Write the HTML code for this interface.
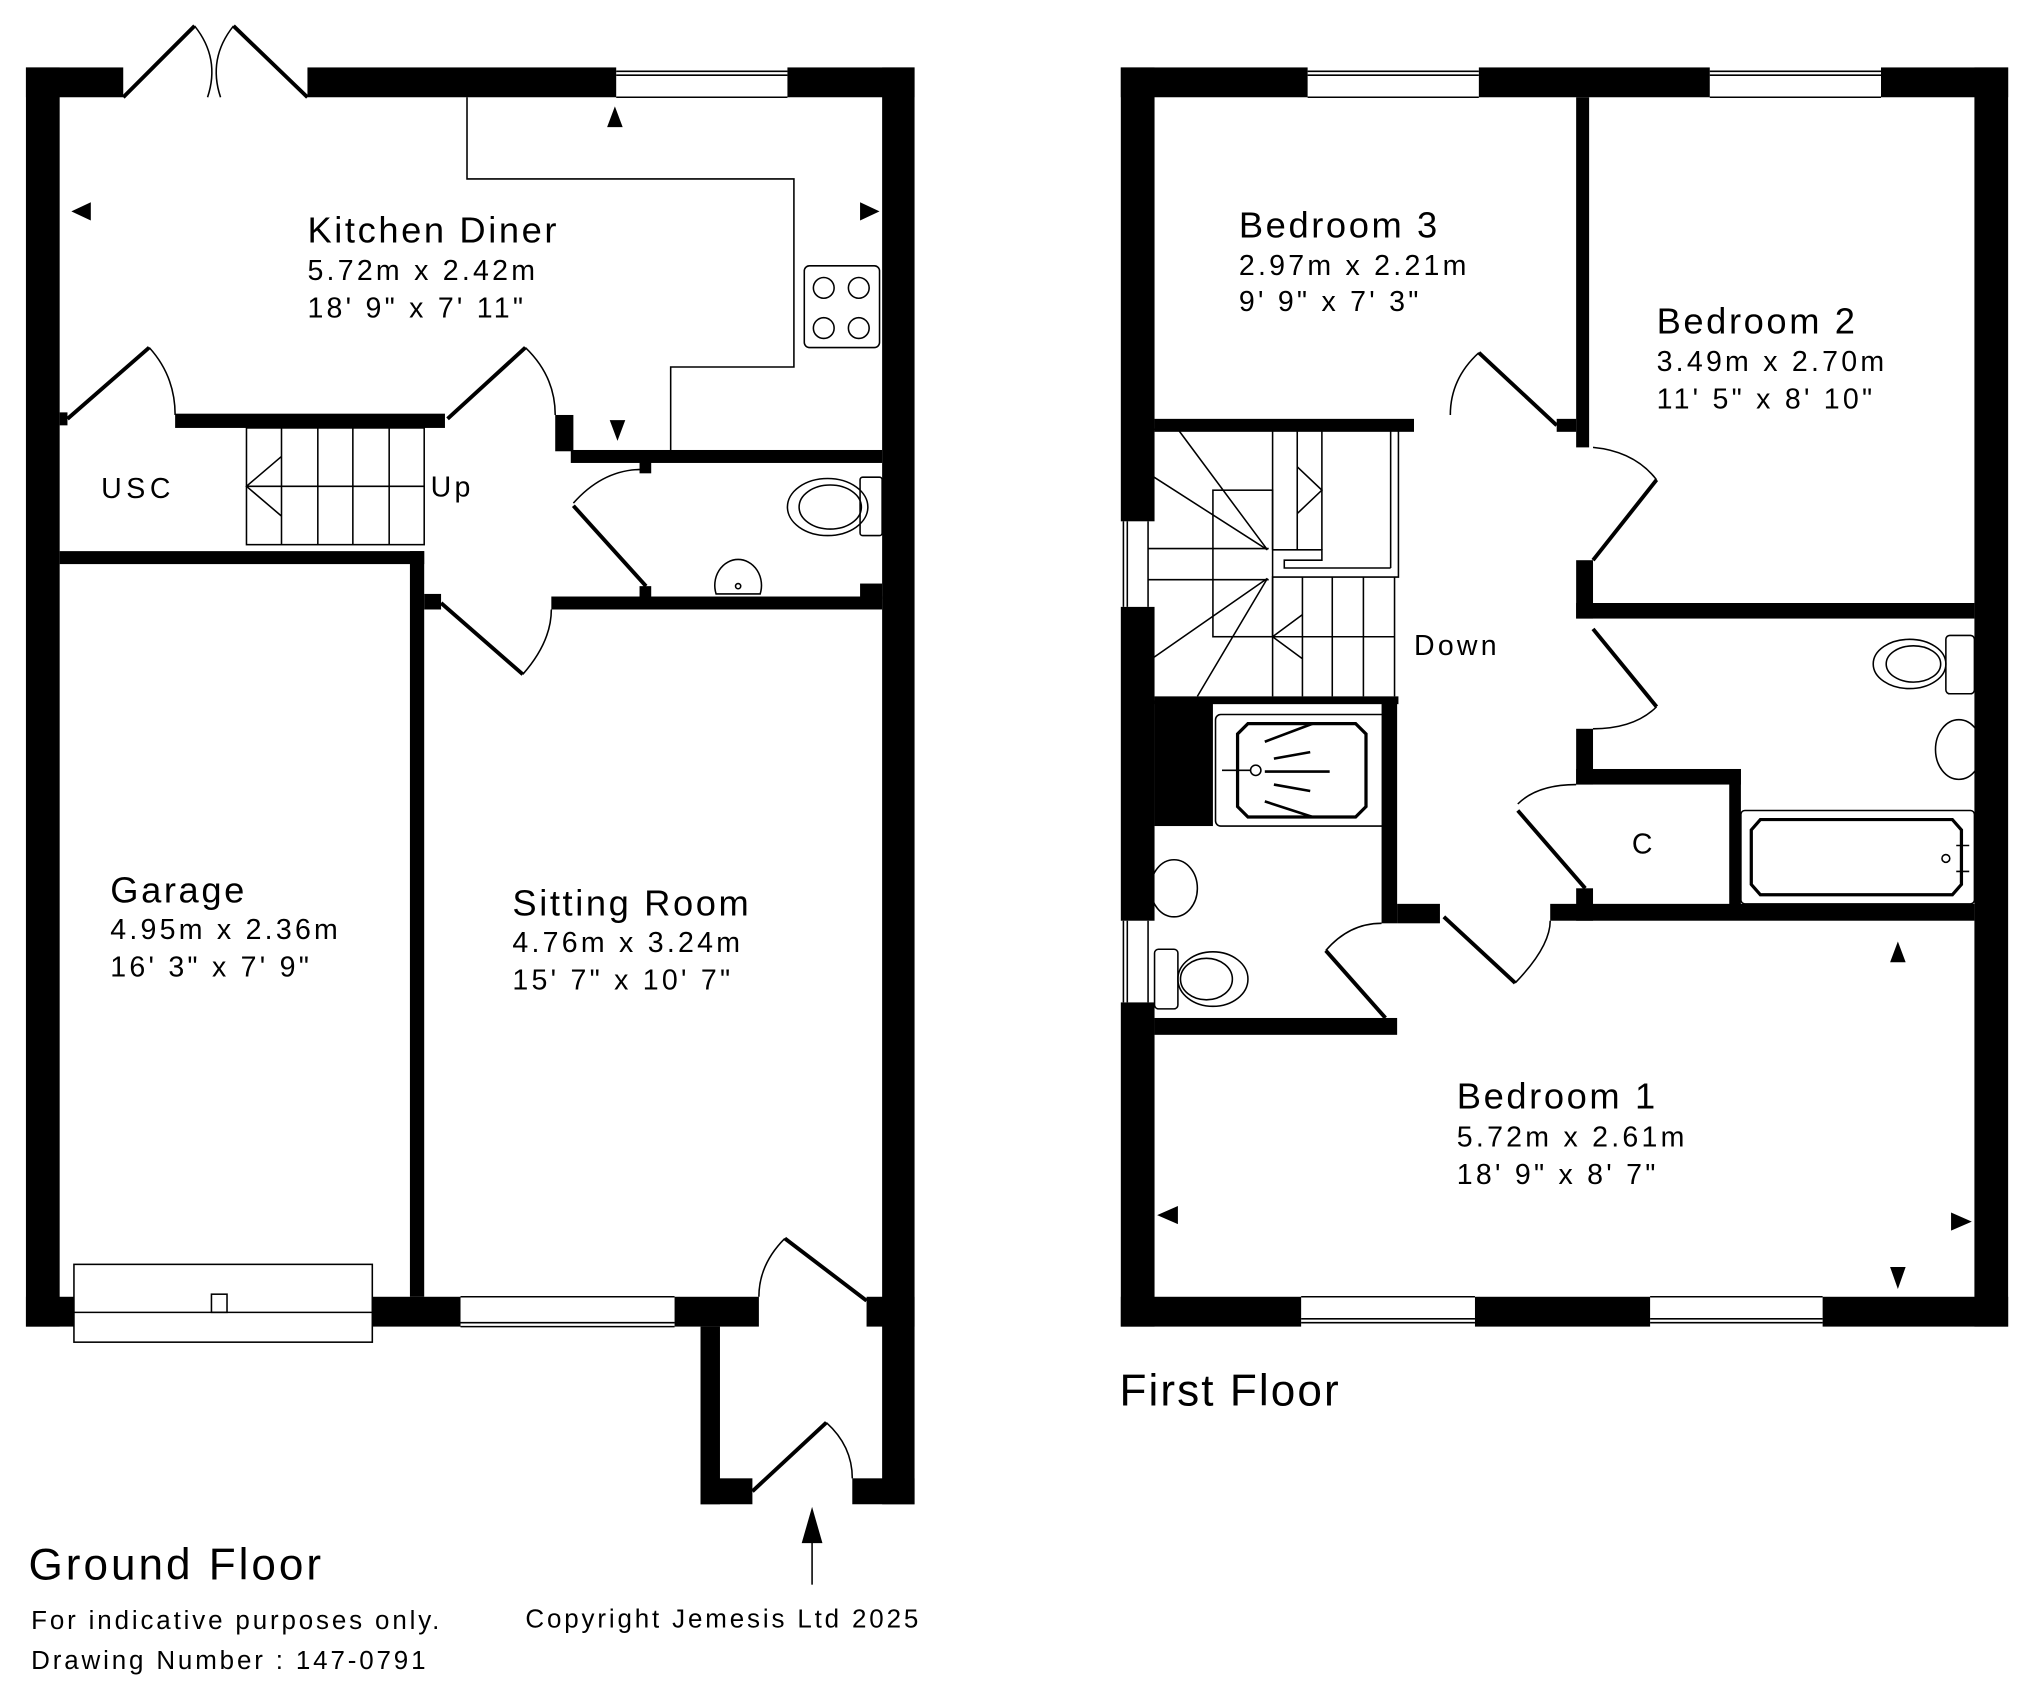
<!DOCTYPE html>
<html><head><meta charset="utf-8"><style>
html,body{margin:0;padding:0;background:#fff}
svg{display:block}
text{font-family:"Liberation Sans",sans-serif;fill:#000}
</style></head><body>
<svg width="2025" height="1691" viewBox="0 0 1561 1304" preserveAspectRatio="none" xmlns="http://www.w3.org/2000/svg">
<g fill="#000" stroke="none">
<rect x="20" y="52" width="26" height="971"/>
<rect x="20" y="52" width="75" height="23"/>
<rect x="237" y="52" width="238" height="23"/>
<rect x="607" y="52" width="98" height="23"/>
<rect x="680" y="52" width="25" height="1108"/>
<rect x="46" y="318" width="6" height="10"/>
<rect x="135" y="319" width="208" height="11"/>
<rect x="428" y="320" width="14" height="28"/>
<rect x="440" y="347" width="240" height="10"/>
<rect x="493" y="355" width="9" height="10"/>
<rect x="493" y="452" width="9" height="10"/>
<rect x="663" y="450" width="17" height="12"/>
<rect x="425" y="460" width="255" height="10"/>
<rect x="46" y="425" width="281" height="10"/>
<rect x="316" y="425" width="11" height="575"/>
<rect x="327" y="458" width="13" height="12"/>
<rect x="20" y="1000" width="37" height="23"/>
<rect x="287" y="1000" width="68" height="23"/>
<rect x="520" y="1000" width="65" height="23"/>
<rect x="668" y="1000" width="37" height="23"/>
<rect x="540" y="1023" width="15" height="137"/>
<rect x="540" y="1140" width="40" height="20"/>
<rect x="657" y="1140" width="48" height="20"/>
<rect x="864" y="52" width="26" height="350"/>
<rect x="864" y="468" width="26" height="242"/>
<rect x="864" y="773" width="26" height="250"/>
<rect x="864" y="52" width="144" height="23"/>
<rect x="1140" y="52" width="178" height="23"/>
<rect x="1450" y="52" width="98" height="23"/>
<rect x="1522" y="52" width="26" height="971"/>
<rect x="864" y="1000" width="139" height="23"/>
<rect x="1137" y="1000" width="135" height="23"/>
<rect x="1405" y="1000" width="143" height="23"/>
<rect x="1215" y="75" width="10" height="270"/>
<rect x="890" y="323" width="200" height="10"/>
<rect x="1200" y="323" width="15" height="10"/>
<rect x="1215" y="432" width="13" height="45"/>
<rect x="1215" y="465" width="307" height="12"/>
<rect x="1215" y="562" width="13" height="43"/>
<rect x="1215" y="593" width="127" height="12"/>
<rect x="1333" y="593" width="9" height="107"/>
<rect x="1215" y="685" width="13" height="25"/>
<rect x="1195" y="697" width="327" height="13"/>
<rect x="1077" y="697" width="33" height="15"/>
<rect x="890" y="537" width="188" height="6"/>
<rect x="890" y="540" width="45" height="97"/>
<rect x="1065" y="540" width="12" height="172"/>
<rect x="890" y="785" width="187" height="13"/>
</g>
<g fill="none" stroke="#000" stroke-width="1.2">
<path d="M475 55H607M475 58H607M475 75H607"/>
<path d="M355 1020H520M355 1023H520M355 1000H520"/>
<path d="M95 75L150 20" stroke-width="3"/>
<path d="M237 75L180 20" stroke-width="3"/>
<path d="M150 20Q170 45 160 75M180 20Q160 45 170 75"/>
<path d="M360 75V138H612V283H517V348"/>
<rect x="620" y="205" width="58" height="63" rx="4"/>
<circle cx="635" cy="222" r="8"/><circle cx="662" cy="222" r="8"/>
<circle cx="635" cy="253" r="8"/><circle cx="662" cy="253" r="8"/>
<path d="M52 323L115 268" stroke-width="3"/><path d="M115 268Q135 290 135 320"/>
<path d="M345 323L405 268" stroke-width="3"/><path d="M405 268Q428 290 428 320"/>
<path d="M442 390L498 452" stroke-width="3"/><path d="M442 388Q465 362 495 362"/>
<path d="M340 465L403 520" stroke-width="3"/><path d="M403 520Q425 495 425 470"/>
<path d="M668 1003L605 955" stroke-width="3"/><path d="M605 955Q585 975 585 1000"/>
<path d="M580 1150L637 1097" stroke-width="3"/><path d="M637 1097Q657 1115 657 1140"/>
<ellipse cx="638" cy="391" rx="31" ry="22"/><ellipse cx="640" cy="391" rx="24" ry="17"/>
<rect x="663" y="368" width="17" height="45" rx="2"/>
<path d="M552 458A18 20 0 1 1 586 458Z"/><circle cx="569" cy="452" r="2"/>
<rect x="190" y="330" width="137" height="90"/>
<path d="M217 330V420M245 330V420M272 330V420M300 330V420M190 375H327M217 352L190 375L217 398"/>
<rect x="57" y="975" width="230" height="60"/>
<path d="M57 1012H287"/><rect x="163" y="998" width="12" height="14"/>
<path d="M626 1222V1180"/>
<path d="M1008 55H1140M1008 58H1140M1008 75H1140"/>
<path d="M1318 55H1450M1318 58H1450M1318 75H1450"/>
<path d="M1003 1000H1137M1003 1020H1137M1003 1017H1137"/>
<path d="M1272 1000H1405M1272 1020H1405M1272 1017H1405"/>
<path d="M866 402V468M869 402V468M885 402V468"/>
<path d="M866 710V773M869 710V773M885 710V773"/>
<path d="M1200 328L1140 272" stroke-width="3"/><path d="M1140 272Q1118 292 1118 320"/>
<path d="M1228 432L1277 370" stroke-width="3"/><path d="M1228 345Q1260 348 1277 370"/>
<path d="M1228 485L1277 545" stroke-width="3"/><path d="M1277 545Q1260 562 1228 562"/>
<path d="M1170 625L1222 685" stroke-width="3"/><path d="M1170 620Q1185 605 1215 605"/>
<path d="M1113 707L1168 758" stroke-width="3"/><path d="M1168 758Q1195 730 1195 710"/>
<path d="M1022 733L1068 785" stroke-width="3"/><path d="M1022 733Q1040 712 1065 712"/>
<path d="M885 331H1078"/>
<path d="M981 331V424M1000 331V424M1019 331V424M1072 331V438M1078 331V445H981V537"/>
<path d="M1000 360L1019 378L1000 396"/>
<path d="M981 424H1019V432H990V438H1072"/>
<rect x="935" y="378" width="46" height="113"/>
<path d="M885 423H978M885 447H978"/>
<path d="M977 424L908 331M977 424L885 365M977 446L885 510M977 446L923 537"/>
<path d="M1004 445V537M1027 445V537M1051 445V537M1075 445V537M981 491H1075M1004 474L981 491L1004 508"/>
<rect x="937" y="551" width="133" height="86" rx="4"/>
<path d="M962 558H1045L1053 566V622L1045 630H962L954 622V566Z" stroke-width="2.5"/>
<path d="M975 582L1012 568M982 595L1010 590M975 605L1025 605M982 615L1010 620M975 628L1012 640" stroke-width="2" transform="translate(0,-10)"/>
<circle cx="968" cy="594" r="4"/>
<path d="M942 594H964"/>
<ellipse cx="905" cy="685" rx="18" ry="22"/>
<rect x="890" y="732" width="18" height="46" rx="3"/>
<ellipse cx="935" cy="755" rx="27" ry="21"/><ellipse cx="930" cy="755" rx="20" ry="16"/>
<ellipse cx="1472" cy="512" rx="28" ry="19"/><ellipse cx="1475" cy="512" rx="21" ry="14"/>
<rect x="1500" y="490" width="22" height="45" rx="3"/>
<ellipse cx="1510" cy="578" rx="18" ry="23"/>
<rect x="1342" y="625" width="180" height="72" rx="3"/>
<path d="M1357 632H1505L1512 640V682L1505 690H1357L1350 682V640Z" stroke-width="2.5"/>
<circle cx="1500" cy="662" r="3"/><path d="M1508 652H1518M1508 672H1518"/>
</g>
<g fill="#000">
<path d="M474 82L468 98H480Z"/>
<path d="M55 163L70 156V170Z"/>
<path d="M678 163L663 156V170Z"/>
<path d="M476 340L470 324H482Z"/>
<path d="M626 1162L618 1190H634Z"/>
<path d="M1463 726L1457 742H1469Z"/>
<path d="M892 937L908 930V944Z"/>
<path d="M1520 942L1504 935V949Z"/>
<path d="M1463 994L1457 977H1469Z"/>
</g>
<g font-size="28" letter-spacing="2">
<text x="237" y="187">Kitchen Diner</text>
<text x="85" y="696">Garage</text>
<text x="395" y="706">Sitting Room</text>
<text x="955" y="183">Bedroom 3</text>
<text x="1277" y="257">Bedroom 2</text>
<text x="1123" y="855">Bedroom 1</text>
</g>
<g font-size="22" letter-spacing="2.5">
<text x="237" y="216">5.72m x 2.42m</text><text x="237" y="245">18' 9" x 7' 11"</text>
<text x="85" y="724">4.95m x 2.36m</text><text x="85" y="753">16' 3" x 7' 9"</text>
<text x="395" y="734">4.76m x 3.24m</text><text x="395" y="763">15' 7" x 10' 7"</text>
<text x="955" y="212">2.97m x 2.21m</text><text x="955" y="240">9' 9" x 7' 3"</text>
<text x="1277" y="286">3.49m x 2.70m</text><text x="1277" y="315">11' 5" x 8' 10"</text>
<text x="1123" y="884">5.72m x 2.61m</text><text x="1123" y="913">18' 9" x 8' 7"</text>
<text x="78" y="384" letter-spacing="3.5">USC</text>
<text x="332" y="383">Up</text>
<text x="1090" y="505" letter-spacing="2.5">Down</text>
<text x="1258" y="658">C</text>
</g>
<text x="22" y="1218" font-size="34" letter-spacing="2.3">Ground Floor</text>
<text x="863" y="1084" font-size="34" letter-spacing="1.6">First Floor</text>
<g font-size="20" letter-spacing="2.2">
<text x="24" y="1256">For indicative purposes only.</text>
<text x="24" y="1287">Drawing Number : 147-0791</text>
<text x="405" y="1255">Copyright Jemesis Ltd 2025</text>
</g>
</svg>
</body></html>
